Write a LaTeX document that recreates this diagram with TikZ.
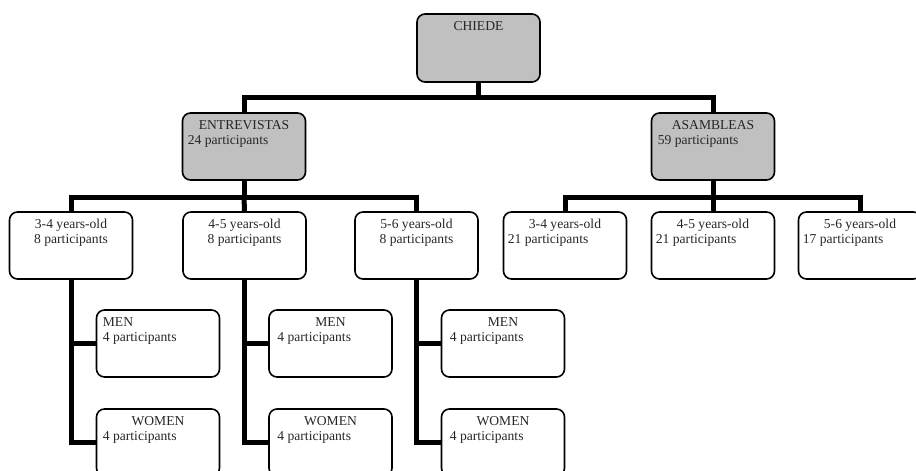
\documentclass[tikz,border=0pt]{standalone}
\usepackage{fontspec}
\setmainfont{Liberation Serif}
\usetikzlibrary{calc}
\definecolor{boxgray}{HTML}{C0C0C0}
\tikzset{
  box/.style={draw=black, line width=1.6pt, rounded corners=8pt, rectangle, inner sep=0pt,
    minimum width=123pt, minimum height=67pt},
  graybox/.style={box, fill=boxgray},
  conn/.style={draw=black, line width=5pt},
  txt/.style={inner sep=0pt, font=\fontsize{13.6pt}{15pt}\selectfont, text=black!85}
}
\newcommand\titleC[2]{\node[txt,anchor=base] (#1-t) at ([yshift=-17pt]#1.north) {#2};}
\newcommand\titleL[3]{\node[txt,anchor=base west] (#1-t) at ([xshift=#3,yshift=-17pt]#1.north west) {#2};}
\newcommand\subC[2]{\node[txt,anchor=base] (#1-s) at ([yshift=-32pt]#1.north) {#2};}
\newcommand\subL[3]{\node[txt,anchor=base west] (#1-s) at ([xshift=#3,yshift=-32pt]#1.north west) {#2};}
\begin{document}
\begin{tikzpicture}[x=1pt,y=-1pt]
\clip (0,0) rectangle (916,471);
% boxes
\node[graybox, minimum height=68pt] (chiede) at (478.5,48) {};
\node[graybox] (entre) at (244,146.5) {};
\node[graybox] (asam) at (713,146.5) {};
\node[box] (e34) at (71,245.5) {};
\node[box] (e45) at (244.5,245.5) {};
\node[box] (e56) at (416.5,245.5) {};
\node[box] (a34) at (565,245.5) {};
\node[box] (a45) at (713,245.5) {};
\node[box] (a56) at (860,245.5) {};
\node[box] (m1) at (158,343.5) {};
\node[box] (m2) at (330.5,343.5) {};
\node[box] (m3) at (503,343.5) {};
\node[box] (w1) at (158,442.5) {};
\node[box] (w2) at (330.5,442.5) {};
\node[box] (w3) at (503,442.5) {};
% connectors
\coordinate (b1) at (478.5,97);
\coordinate (b2) at (244,197);
\coordinate (b3) at (713,197);
\draw[conn] (chiede.south) -- (b1);
\draw[conn] (entre.north) |- (b1) -| (asam.north);
\draw[conn] (entre.south) -- (b2);
\draw[conn] (e34.north) |- (b2) -| (e56.north);
\draw[conn] (b2) -- (e45.north);
\draw[conn] (asam.south) -- (b3);
\draw[conn] (a34.north) |- (b3) -| (a56.north);
\draw[conn] (b3) -- (a45.north);
\draw[conn] (e34.south) |- (w1.west);
\draw[conn] (e34.south |- m1.west) -- (m1.west);
\draw[conn] (e45.south) |- (w2.west);
\draw[conn] (e45.south |- m2.west) -- (m2.west);
\draw[conn] (e56.south) |- (w3.west);
\draw[conn] (e56.south |- m3.west) -- (m3.west);
% texts
\titleC{chiede}{CHIEDE}
\titleC{entre}{ENTREVISTAS}\subL{entre}{24 participants}{6pt}
\titleC{asam}{ASAMBLEAS}\subL{asam}{59 participants}{7pt}
\titleC{e34}{3-4 years-old}\subC{e34}{8 participants}
\titleC{e45}{4-5 years-old}\subC{e45}{8 participants}
\titleC{e56}{5-6 years-old}\subC{e56}{8 participants}
\titleC{a34}{3-4 years-old}\subL{a34}{21 participants}{5pt}
\titleC{a45}{4-5 years-old}\subL{a45}{21 participants}{5pt}
\titleC{a56}{5-6 years-old}\subL{a56}{17 participants}{5pt}
\titleL{m1}{MEN}{7pt}\subL{m1}{4 participants}{7pt}
\titleC{m2}{MEN}\subL{m2}{4 participants}{9pt}
\titleC{m3}{MEN}\subL{m3}{4 participants}{9pt}
\titleC{w1}{WOMEN}\subL{w1}{4 participants}{7pt}
\titleC{w2}{WOMEN}\subL{w2}{4 participants}{9pt}
\titleC{w3}{WOMEN}\subL{w3}{4 participants}{9pt}
\end{tikzpicture}
\end{document}
